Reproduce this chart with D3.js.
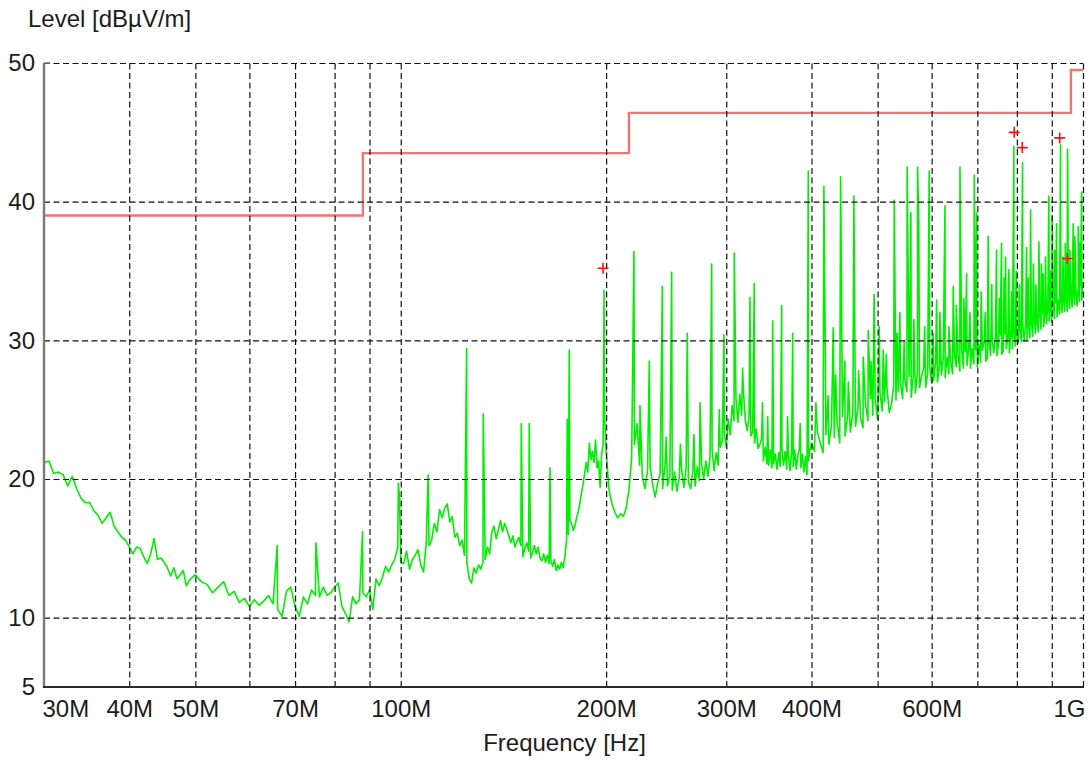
<!DOCTYPE html>
<html>
<head>
<meta charset="utf-8">
<script src="https://cdn.jsdelivr.net/npm/d3@7"></script>
<style>
  html, body { margin: 0; padding: 0; background: #fff; }
  svg { display: block; }
  text { font-family: "Liberation Sans", Arial, Helvetica, sans-serif; fill: #1c1c1c; }
</style>
</head>
<body>
<svg id="chart" width="1089" height="761"></svg>
<script>
// ---- Measured spectrum (frequency in MHz, level in dBµV/m) ----
// Sweep segments: levels at a fixed frequency step from a start frequency.
const sweep30to50 = [21.2,21.3,20.4,20.5,20.3,19.5,20.2,19.3,18.6,18.3,18.3,17.7,17.4,16.8,17.2,17.6,16.6,16.2,15.8,15.6,15.1,14.6,15.1,15.0,14.4,13.9,14.6,15.7,14.2,14.3,14.0,13.6,13.0,13.6,12.8,13.1,13.4,12.3,12.7,12.9,13.1];
const sweep51to100 = [12.6,12.4,11.8,12.2,12.6,11.6,11.9,11.1,11.4,10.8,
  11.3,10.9,11.2,11.6,11.0,10.6,10.1,11.9,12.2,10.8,
  10.1,11.5,11.0,12.0,11.6,11.5,12.2,11.6,11.8,12.2,
  12.5,10.8,10.3,9.7,11.5,11.0,11.3,11.8,11.5,12.0,
  10.6,12.8,12.3,12.9,13.7,13.3,13.8,14.2,15.1,14.0];
const sweep101to200 = [13.9,14.8,13.5,14.2,14.5,14.9,13.8,13.3,15.4,15.2,
  15.6,16.8,16.2,17.8,17.2,17.9,18.2,16.9,17.3,15.8,
  16.1,15.2,15.6,14.5,14.0,12.8,12.5,13.6,13.2,13.8,
  13.5,14.0,14.2,15.1,14.6,16.2,16.6,15.7,16.3,17.0,
  16.2,16.8,16.4,15.9,15.4,15.9,15.1,15.5,15.8,15.2,
  14.4,15.0,15.4,14.8,14.3,14.7,15.2,14.6,15.1,14.3,
  14.1,14.6,14.0,14.5,13.9,14.1,13.7,14.2,13.4,13.8,
  13.5,14.0,13.6,14.4,15.6,16.0,17.0,16.8,16.3,16.6,
  17.2,17.6,18.2,19.0,19.6,20.4,21.2,20.5,22.6,21.4,
  22.0,21.2,22.8,20.8,21.3,19.4,21.8,22.5,24.5,22.0];
const sweep202to400 = [19.2,18.2,17.6,17.2,17.5,17.3,17.9,19.2,21.5,22.5,
  24.0,21.0,20.2,19.3,20.6,20.9,19.6,18.7,19.7,20.4,
  19.3,21.0,19.5,20.3,19.2,20.5,19.1,20.1,20.7,19.4,
  20.8,19.8,19.3,20.6,19.5,20.9,19.9,21.1,20.0,21.3,
  20.2,21.6,22.0,20.6,21.9,21.0,22.3,22.8,23.4,22.3,
  24.3,23.2,25.3,24.2,25.8,24.1,26.1,24.6,26.2,24.2,
  23.5,24.5,23.1,23.4,22.6,23.6,22.2,22.5,22.9,21.3,
  22.3,21.1,21.0,22.1,20.8,21.1,21.8,20.7,21.9,20.9,
  22.2,21.0,22.0,20.7,21.8,20.6,21.9,20.9,22.1,20.7,
  21.7,22.2,20.8,21.8,20.5,21.6,20.3,21.3,22.1,22.6];
const sweep404to1000 = [22.0,23.4,22.6,21.9,23.2, 22.5,23.9,23.0,24.2,22.6,
  24.5,23.1,24.6,23.4,24.8, 23.8,25.2,24.4,23.7,25.4,
  24.2,25.8,24.6,25.7,24.3, 26.2,24.9,25.6,26.6,24.8,
  25.4,26.8,25.7,26.3,27.0, 25.8,27.2,26.3,27.4,25.9,
  27.5,26.2,27.7,26.6,27.4, 28.0,26.6,27.6,28.2,26.9,
  27.1,28.4,27.0,28.3,27.5, 28.7,27.3,28.8,27.6,28.5,
  27.6,29.0,28.1,28.9,27.8, 29.3,28.0,29.2,28.2,29.4,
  28.0,29.4,28.3,29.3,28.1, 29.7,28.4,29.3,29.9,28.5,
  28.7,30.0,28.9,30.1,29.1, 30.3,28.9,29.8,30.4,29.0,
  29.2,30.5,29.4,30.3,29.1, 30.6,29.4,30.7,29.6,30.5,
  29.8,31.0,29.9,31.1,30.0, 31.3,30.0,31.2,30.2,31.4,
  30.3,31.6,30.5,31.5,30.6, 32.1,30.8,31.9,31.0,32.2,
  31.2,32.5,31.4,32.6,31.3, 32.8,31.6,32.7,31.7,32.9,
  31.9,33.1,32.0,33.2,32.1, 33.4,32.1,33.3,32.3,33.5,
  32.4,33.7,32.6,33.8,32.5, 33.9,32.8,34.0,32.9,34.2];

// Narrowband emissions (MHz, peak dBµV/m)
const spikeFreqs = [65.9,75.1,87.9,99.2,99.6,109.7,124.9,132.1,150.2,154.3,165.5,175.4,176.6,198.6,
  219.7,224.2,231.4,241.8,249.5,263.0,274.6,285.6,297.7,308.2,325.0,329.7,350.9,361.7,375.4,395.7,
  417.1,430.4,441.3,447.7,461.5,476.2,484.4,494.2,502.7,509.5,528.8,539.0,552.4,559.4,572.2,574.5,
  595.0,610.2,627.6,645.4,660.2,675.2,692.7,698.3,726.2,747.0,759.7,770.0,778.7,791.9,815.5,826.6,
  837.9,861.7,874.3,891.2,901.2,914.6,927.1,949.2,967.4,984.0,995.4];
const spikeLevels = [15.2,15.4,16.2,19.7,18.6,20.3,29.4,24.7,24.0,24.0,20.8,24.3,29.3,33.6,
  36.4,25.3,28.5,33.9,34.9,30.5,25.5,35.5,30.4,36.3,33.1,34.1,31.4,32.5,30.5,42.2,
  41.1,30.9,41.8,28.5,40.4,28.8,30.7,33.3,31.0,29.3,40.1,32.0,42.5,39.2,42.5,38.4,
  42.2,32.9,39.7,33.9,42.5,34.8,41.9,39.2,37.5,36.5,37.0,36.0,35.1,44.0,42.8,36.7,
  39.4,37.1,34.8,40.4,39.0,38.4,44.1,43.8,38.4,38.2,40.7];

// Smaller emissions riding on the noise floor
const minorSpikeFreqs = [245, 257, 269, 293, 317, 339, 345, 369, 385,
  406, 423, 434, 453, 469, 489, 515, 534, 547, 565, 586, 603, 617, 636, 652, 669, 683,
  709, 719, 735, 754, 766, 786, 798, 807, 831, 846, 853, 869, 881, 897, 909, 935, 942, 957, 973, 990];
const minorSpikeLevels = [23.0, 22.5, 23.2, 25.0, 28.0, 25.5, 24.5, 24.5, 24.0,
  25.5, 26.0, 27.5, 27.0, 27.8, 28.5, 29.0, 30.5, 30.0, 31.5, 31.0, 30.5, 32.0, 31.0, 32.5, 33.0, 32.0,
  33.5, 32.0, 34.0, 33.0, 34.5, 33.5, 35.0, 34.0, 34.5, 35.5, 34.0, 35.5, 36.0, 35.0, 36.5, 36.0, 37.0, 36.5, 37.5, 37.0];

// Limit line (step starts in MHz, level in dBµV/m)
const limitFreqs = [30, 88, 216, 960, 1000];
const limitLevels = [39, 43.5, 46.4, 49.5, 49.5];

// Final measurement points
const peakFreqs = [197.9, 792.9, 814.6, 924.4, 948.3];
const peakLevels = [35.2, 45.0, 43.9, 44.6, 35.9];

// Axis ticks
const xTickValues = [30, 40, 50, 70, 100, 200, 300, 400, 600, 1000];
const xTickLabels = ["30M", "40M", "50M", "70M", "100M", "200M", "300M", "400M", "600M", "1G"];
const xGridValues = [40, 50, 60, 70, 80, 90, 100, 200, 300, 400, 500, 600, 700, 800, 900, 1000];
const yTickValues = [5, 10, 20, 30, 40, 50];
const yGridValues = [10, 20, 30, 40, 50];

// ---- Layout ----
const svg = d3.select("#chart");
const plotL = 44, plotR = 1083, plotT = 63, plotB = 687;
const x = d3.scaleLog().domain([30, 1000]).range([plotL, plotR]);
const y = d3.scaleLinear().domain([5, 50]).range([plotB, plotT]);

svg.append("rect").attr("width", 1089).attr("height", 761).attr("fill", "#fff");

// Build the trace from the sweep segments plus the narrowband peaks
function segment(start, step, levels) {
  return levels.map((v, i) => [+(start + i * step).toFixed(3), v]);
}
const trace = [].concat(
  segment(30, 0.5, sweep30to50),
  segment(51, 1, sweep51to100),
  segment(101, 1, sweep101to200),
  segment(202, 2, sweep202to400),
  segment(404, 4, sweep404to1000),
  spikeFreqs.map((f, i) => [f, spikeLevels[i]]),
  minorSpikeFreqs.map((f, i) => [f, minorSpikeLevels[i]])
).sort((a, b) => a[0] - b[0]);

const clipId = "plotClip";
svg.append("clipPath").attr("id", clipId)
  .append("rect").attr("x", plotL).attr("y", plotT - 2).attr("width", plotR - plotL).attr("height", plotB - plotT + 2);

// Limit line
const limitData = limitFreqs.map((f, i) => [f, limitLevels[i]]);
svg.append("path")
  .datum(limitData)
  .attr("clip-path", `url(#${clipId})`)
  .attr("fill", "none")
  .attr("stroke", "#f07474")
  .attr("stroke-width", 2.4)
  .attr("d", d3.line().x(d => x(d[0])).y(d => y(d[1])).curve(d3.curveStepAfter));

// Spectrum trace
svg.append("path")
  .datum(trace)
  .attr("clip-path", `url(#${clipId})`)
  .attr("fill", "none")
  .attr("stroke", "#00f000")
  .attr("stroke-width", 1.6)
  .attr("stroke-linejoin", "round")
  .attr("d", d3.line().x(d => x(d[0])).y(d => y(d[1])));

// Dashed grid drawn over the data
const gx = svg.append("g")
  .attr("transform", `translate(0,${plotB})`)
  .call(d3.axisBottom(x).tickValues(xGridValues).tickSize(-(plotB - plotT)).tickFormat(""));
gx.select(".domain").remove();
gx.selectAll("line").attr("stroke", "#111").attr("stroke-width", 1.2).attr("stroke-dasharray", "6,3.5");

const gy = svg.append("g")
  .attr("transform", `translate(${plotL},0)`)
  .call(d3.axisLeft(y).tickValues(yGridValues).tickSize(-(plotR - plotL)).tickFormat(""));
gy.select(".domain").remove();
gy.selectAll("line").attr("stroke", "#111").attr("stroke-width", 1.2).attr("stroke-dasharray", "6,3.5");

// Measurement markers
svg.append("g").selectAll("path")
  .data(peakFreqs.map((f, i) => [f, peakLevels[i]]))
  .join("path")
  .attr("transform", d => `translate(${x(d[0])},${y(d[1])})`)
  .attr("d", "M-5.5,0H5.5M0,-5.5V5.5")
  .attr("stroke", "#ff1010")
  .attr("stroke-width", 1.6)
  .attr("fill", "none");

// Axis frame
svg.append("line").attr("x1", plotL).attr("x2", plotL).attr("y1", plotT).attr("y2", plotB + 1)
  .attr("stroke", "#7a7a7a").attr("stroke-width", 2.4);
svg.append("line").attr("x1", plotL).attr("x2", plotL + 6).attr("y1", plotT).attr("y2", plotT)
  .attr("stroke", "#7a7a7a").attr("stroke-width", 1.6);
svg.append("line").attr("x1", plotL - 1).attr("x2", plotR + 1).attr("y1", plotB).attr("y2", plotB)
  .attr("stroke", "#2a2a2a").attr("stroke-width", 2.2);

// Tick labels
const ax = svg.append("g")
  .attr("transform", `translate(0,${plotB})`)
  .call(d3.axisBottom(x).tickValues(xTickValues).tickSize(0).tickPadding(13)
    .tickFormat((d, i) => xTickLabels[i]));
ax.select(".domain").remove();
ax.selectAll("text")
  .attr("font-size", 24)
  .attr("font-family", "'Liberation Sans', Arial, sans-serif")
  .attr("fill", "#1c1c1c")
  .attr("text-anchor", (d, i) => i === 0 ? "start" : (i === xTickValues.length - 1 ? "end" : "middle"))
  .attr("dx", (d, i) => i === 0 ? -2 : (i === xTickValues.length - 1 ? 2 : 0));

const ay = svg.append("g")
  .attr("transform", `translate(${plotL},0)`)
  .call(d3.axisLeft(y).tickValues(yTickValues).tickSize(0).tickPadding(9).tickFormat(d3.format("d")));
ay.select(".domain").remove();
ay.selectAll("text")
  .attr("font-size", 24)
  .attr("font-family", "'Liberation Sans', Arial, sans-serif")
  .attr("fill", "#1c1c1c");

// Axis titles
svg.append("text").attr("x", 28).attr("y", 27)
  .attr("font-size", 24).text("Level [dBµV/m]");
svg.append("text").attr("x", (plotL + plotR) / 2 + 1).attr("y", 751)
  .attr("font-size", 24).attr("text-anchor", "middle").text("Frequency [Hz]");
</script>
</body>
</html>
